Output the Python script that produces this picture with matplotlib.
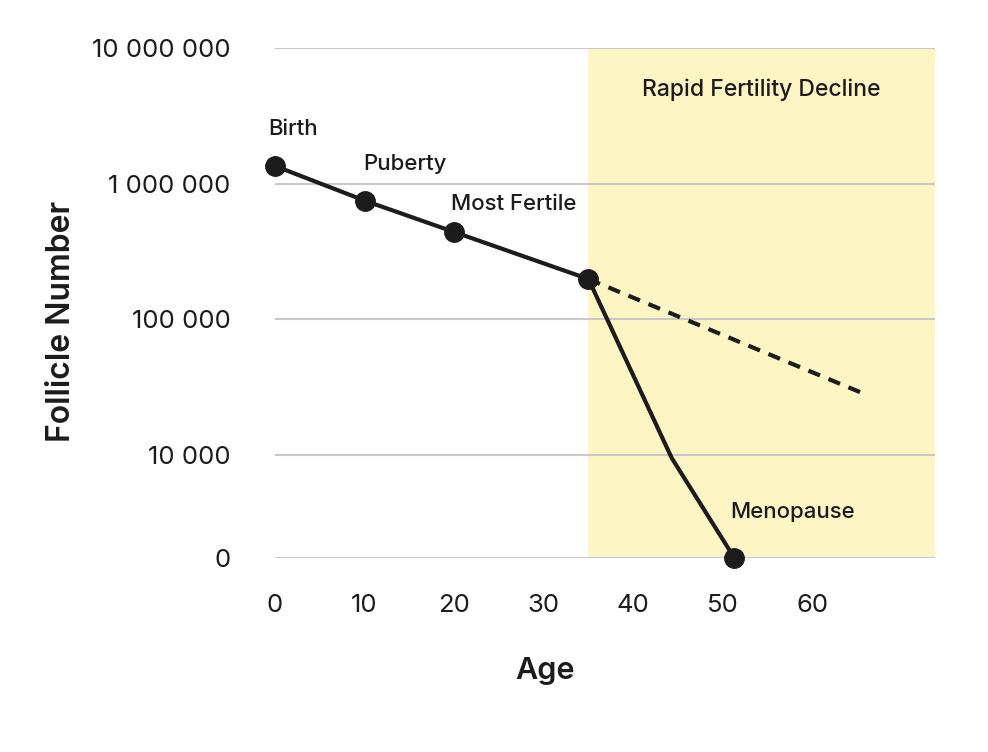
import numpy as np
import matplotlib
matplotlib.use("Agg")
import matplotlib.pyplot as plt

# data
stage_labels = ["Birth", "Puberty", "Most Fertile", "", "", "Menopause"]
ages = [0, 10, 20, 35, 44.3, 51.3]
follicles = [1350000, 750000, 440000, 198000, 9700, 0]
marker_idx = [0, 1, 2, 3, 5]

trend_ages = [35, 65.9]
trend_follicles = [198000, 28000]

decline_start = 35
y_ticks = [0, 10000, 100000, 1000000, 10000000]
y_tick_labels = ["0", "10 000", "100 000", "1 000 000", "10 000 000"]
x_ticks = [0, 10, 20, 30, 40, 50, 60]

# log scale above 10 000, linear squeeze between 0 and 10 000
ZERO_POS = 3.24


def forward(v):
    v = np.asarray(v, dtype=float)
    lin = ZERO_POS + (4 - ZERO_POS) * v / 1e4
    return np.where(v >= 1e4, np.log10(np.maximum(v, 1e4)), lin)


def inverse(p):
    p = np.asarray(p, dtype=float)
    lin = (p - ZERO_POS) / (4 - ZERO_POS) * 1e4
    return np.where(p >= 4, 10 ** np.maximum(p, 4), lin)


plt.rcParams['font.family'] = ['Inter', 'DejaVu Sans']
ink = '#1c1c1c'

fig = plt.figure(figsize=(9.88, 7.52), dpi=100)
ax = fig.add_axes([275 / 988, 1 - 558 / 752, 660 / 988, 510 / 752])

ax.set_yscale('function', functions=(forward, inverse))
ax.set_xlim(0, 73.7)
ax.set_ylim(0, 10000000)

ax.axvspan(decline_start, 73.7, color='#fdf6c4', zorder=0, lw=0)
for t in y_ticks:
    ax.axhline(t, color='#c9c9c9', lw=1.5, zorder=1)

ax.plot(trend_ages, trend_follicles, color=ink, lw=3, ls=(0, (3, 2.2)), zorder=2)
ax.plot(ages, follicles, color=ink, lw=3, zorder=3, clip_on=False)
ax.plot([ages[i] for i in marker_idx], [follicles[i] for i in marker_idx], 'o',
        color=ink, markersize=14, zorder=4, clip_on=False)

offsets = {"Birth": (-5, 22), "Puberty": (-1, 22), "Most Fertile": (-2, 16),
           "Menopause": (-3, 29)}
for lab, a, f in zip(stage_labels, ages, follicles):
    if lab:
        ax.annotate(lab, (a, f), xytext=offsets[lab], textcoords='offset points',
                    ha='left', va='baseline', fontsize=16, fontweight='medium',
                    color=ink)

ax.text((decline_start + 73.7) / 2, 0.918, "Rapid Fertility Decline",
        transform=ax.get_xaxis_transform(), ha='center', va='center',
        fontsize=16.5, fontweight='medium', color=ink)

ax.set_yticks(y_ticks)
ax.set_yticklabels(y_tick_labels)
ax.set_xticks(x_ticks)
ax.minorticks_off()
ax.tick_params(axis='both', length=0, labelsize=18.5, colors=ink)
ax.tick_params(axis='y', pad=32)
ax.tick_params(axis='x', pad=26)
for s in ax.spines.values():
    s.set_visible(False)

ax.set_xlabel("Age", fontsize=22, fontweight='semibold', color=ink)
ax.set_ylabel("Follicle Number", fontsize=23, fontweight='semibold', color=ink)
ax.xaxis.set_label_coords(0.409, -0.195)
ax.yaxis.set_label_coords(-0.30, 0.463)

fig.savefig("out.png", dpi=100)
